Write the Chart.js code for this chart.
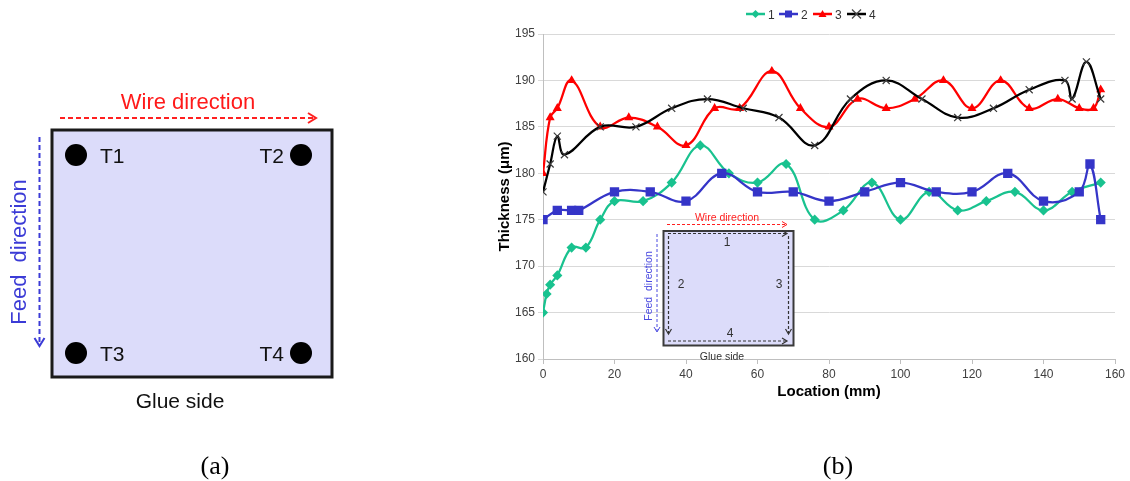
<!DOCTYPE html>
<html>
<head>
<meta charset="utf-8">
<title>Thickness along the sheet</title>
<script src="https://cdn.jsdelivr.net/npm/chart.js@4/dist/chart.umd.min.js"></script>
<style>
  body { margin: 0; background: #fff; }
  #wrap { position: relative; width: 1130px; height: 481px; overflow: hidden; }
  #myChart { position: absolute; left: 490px; top: 0; }
  #overlay { position: absolute; left: 0; top: 0; pointer-events: none; }
  .sans { font-family: "Liberation Sans", Arial, sans-serif; }
  .serif { font-family: "Liberation Serif", "Times New Roman", serif; }
</style>
</head>
<body>

<div id="wrap">
  <canvas id="myChart" width="640" height="410"></canvas>

  <svg id="overlay" width="1130" height="481" class="sans">
    <!-- (a) sample sketch -->
    <rect x="52" y="130" width="280" height="247" fill="#dcdcfa" stroke="#1a1a1a" stroke-width="3"/>
    <line x1="60" y1="118" x2="315" y2="118" stroke="#ff2020" stroke-width="2" stroke-dasharray="5 3"/>
    <polyline points="308,113 316,118 308,123" fill="none" stroke="#ff2020" stroke-width="2"/>
    <text x="188" y="109" font-size="22" fill="#ff1a1a" text-anchor="middle">Wire direction</text>
    <line x1="39.5" y1="137" x2="39.5" y2="345" stroke="#3b3bd6" stroke-width="2" stroke-dasharray="5 3"/>
    <polyline points="34.5,338 39.5,346 44.5,338" fill="none" stroke="#3b3bd6" stroke-width="2"/>
    <text transform="translate(26,252) rotate(-90)" font-size="22" fill="#3b3bd6" text-anchor="middle" xml:space="preserve">Feed  direction</text>
    <circle cx="76" cy="155" r="11" fill="#000"/>
    <circle cx="301" cy="155" r="11" fill="#000"/>
    <circle cx="76" cy="353" r="11" fill="#000"/>
    <circle cx="301" cy="353" r="11" fill="#000"/>
    <text x="100" y="163" font-size="21" fill="#111">T1</text>
    <text x="284" y="163" font-size="21" fill="#111" text-anchor="end">T2</text>
    <text x="100" y="361" font-size="21" fill="#111">T3</text>
    <text x="284" y="361" font-size="21" fill="#111" text-anchor="end">T4</text>
    <text x="180" y="408" font-size="21" fill="#111" text-anchor="middle">Glue side</text>

    <!-- inset sketch inside the plot -->
    <rect x="663.5" y="231" width="130" height="114.5" fill="#dcdcfa" stroke="#3a3a3a" stroke-width="2"/>
    <g stroke="#333" stroke-width="1.2" fill="none">
      <line x1="668" y1="233.5" x2="786" y2="233.5" stroke-dasharray="3 2"/>
      <polyline points="782,230.5 787,233.5 782,236.5"/>
      <line x1="668.5" y1="236" x2="668.5" y2="333" stroke-dasharray="3 2"/>
      <polyline points="665.5,329 668.5,334 671.5,329"/>
      <line x1="788.5" y1="236" x2="788.5" y2="333" stroke-dasharray="3 2"/>
      <polyline points="785.5,329 788.5,334 791.5,329"/>
      <line x1="668" y1="341" x2="786" y2="341" stroke-dasharray="3 2"/>
      <polyline points="782,338 787,341 782,344"/>
    </g>
    <text x="727" y="246" font-size="12" fill="#333" text-anchor="middle">1</text>
    <text x="681" y="288" font-size="12" fill="#333" text-anchor="middle">2</text>
    <text x="779" y="288" font-size="12" fill="#333" text-anchor="middle">3</text>
    <text x="730" y="337" font-size="12" fill="#333" text-anchor="middle">4</text>
    <text x="727" y="220.5" font-size="10.5" fill="#ff2020" text-anchor="middle">Wire direction</text>
    <line x1="667" y1="224.5" x2="786" y2="224.5" stroke="#ff2020" stroke-width="1" stroke-dasharray="3 2"/>
    <polyline points="782,221.5 787,224.5 782,227.5" fill="none" stroke="#ff2020" stroke-width="1"/>
    <text transform="translate(651.8,286) rotate(-90)" font-size="10.5" fill="#4a4ae0" text-anchor="middle" xml:space="preserve">Feed  direction</text>
    <line x1="657" y1="234" x2="657" y2="331" stroke="#4a4ae0" stroke-width="1" stroke-dasharray="3 2"/>
    <polyline points="654,327 657,332 660,327" fill="none" stroke="#4a4ae0" stroke-width="1"/>
    <text x="722" y="359.5" font-size="10.5" fill="#333" text-anchor="middle">Glue side</text>

    <!-- legend -->
    <line x1="746" y1="14" x2="765" y2="14" stroke="#19c28f" stroke-width="2.5"/>
    <polygon points="755.5,10 759.5,14 755.5,18 751.5,14" fill="#19c28f"/>
    <text x="768" y="18.5" font-size="12" fill="#333">1</text>
    <line x1="779" y1="14" x2="798" y2="14" stroke="#3535c8" stroke-width="2.5"/>
    <rect x="785" y="10.5" width="7" height="7" fill="#3535c8"/>
    <text x="801" y="18.5" font-size="12" fill="#333">2</text>
    <line x1="813" y1="14" x2="832" y2="14" stroke="#ff0000" stroke-width="2.5"/>
    <polygon points="822.5,10 826.5,17 818.5,17" fill="#ff0000"/>
    <text x="835" y="18.5" font-size="12" fill="#333">3</text>
    <line x1="847" y1="14" x2="866" y2="14" stroke="#000" stroke-width="2.5"/>
    <g stroke="#444" stroke-width="1.2"><line x1="852" y1="9.5" x2="861" y2="18.5"/><line x1="852" y1="18.5" x2="861" y2="9.5"/></g>
    <text x="869" y="18.5" font-size="12" fill="#333">4</text>

    <!-- panel captions -->
    <text x="215" y="474" font-size="26" fill="#000" text-anchor="middle" class="serif">(a)</text>
    <text x="838" y="474" font-size="26" fill="#000" text-anchor="middle" class="serif">(b)</text>
  </svg>
</div>

<script>
    // readings per series: location (mm) and thickness (um)
    const loc1 = [0, 1, 2, 4, 8, 12, 16, 20, 28, 36, 44, 52, 60, 68, 76, 84, 92, 100, 108, 116, 124, 132, 140, 148, 156];
    const thk1 = [165, 167, 168, 169, 172, 172, 175, 177, 177, 179, 183, 180, 179, 181, 175, 176, 179, 175, 178, 176, 177, 178, 176, 178, 179];

    const loc2 = [0, 4, 8, 10, 20, 30, 40, 50, 60, 70, 80, 90, 100, 110, 120, 130, 140, 150, 153, 156];
    const thk2 = [175, 176, 176, 176, 178, 178, 177, 180, 178, 178, 177, 178, 179, 178, 178, 180, 177, 178, 181, 175];

    const loc3 = [0, 2, 4, 8, 16, 24, 32, 40, 48, 55, 64, 72, 80, 88, 96, 104, 112, 120, 128, 136, 144, 150, 154, 156];
    const thk3 = [180, 186, 187, 190, 185, 186, 185, 183, 187, 187, 191, 187, 185, 188, 187, 188, 190, 187, 190, 187, 188, 187, 187, 189];

    const loc4 = [0, 2, 4, 6, 16, 26, 36, 46, 56, 66, 76, 86, 96, 106, 116, 126, 136, 146, 148, 152, 156];
    const thk4 = [178, 181, 184, 182, 185, 185, 187, 188, 187, 186, 183, 188, 190, 188, 186, 187, 189, 190, 188, 192, 188];

    const xTicks = [0, 20, 40, 60, 80, 100, 120, 140, 160];
    const yTicks = [160, 165, 170, 175, 180, 185, 190, 195];

    function pairs(xs, ys) {
        return xs.map(function(x, i) { return { x: x, y: ys[i] }; });
    }

    Chart.defaults.font.family = '"Liberation Sans", Arial, sans-serif';

    new Chart("myChart", {
        type: "line",
        data: {
            datasets: [
                { label: "1", data: pairs(loc1, thk1), borderColor: "#19c28f", backgroundColor: "#19c28f",
                  pointStyle: "rectRot", pointRadius: 3.5, borderWidth: 2.25, order: 3 },
                { label: "2", data: pairs(loc2, thk2), borderColor: "#3535c8", backgroundColor: "#3535c8",
                  pointStyle: "rect", pointRadius: 5, borderWidth: 2.25, order: 2 },
                { label: "3", data: pairs(loc3, thk3), borderColor: "#ff0000", backgroundColor: "#ff0000",
                  pointStyle: "triangle", pointRadius: 3, borderWidth: 2.25, order: 1 },
                { label: "4", data: pairs(loc4, thk4), borderColor: "#000000", backgroundColor: "#000000",
                  pointStyle: "crossRot", pointRadius: 5, pointBorderColor: "#3a3a3a", pointBorderWidth: 1.2,
                  borderWidth: 2.25, order: 0 }
            ]
        },
        options: {
            responsive: false,
            animation: false,
            devicePixelRatio: 1,
            elements: { line: { tension: 0.4, fill: false } },
            layout: { padding: { top: 34, right: 15, left: 0, bottom: 0 } },
            plugins: { legend: { display: false }, tooltip: { enabled: false } },
            scales: {
                x: {
                    type: "linear",
                    min: xTicks[0],
                    max: xTicks[xTicks.length - 1],
                    afterBuildTicks: function(s) { s.ticks = xTicks.map(function(v) { return { value: v }; }); },
                    afterFit: function(s) { s.height = 51; },
                    ticks: { color: "#404040", font: { size: 12 }, padding: 3, maxRotation: 0 },
                    grid: { drawOnChartArea: false, color: "#bfbfbf", tickLength: 5 },
                    border: { color: "#bfbfbf" },
                    title: { display: true, text: "Location (mm)", color: "#000",
                             font: { size: 15, weight: "bold" }, padding: { top: 0, bottom: 9 } }
                },
                y: {
                    min: yTicks[0],
                    max: yTicks[yTicks.length - 1],
                    afterBuildTicks: function(s) { s.ticks = yTicks.map(function(v) { return { value: v }; }); },
                    afterFit: function(s) { s.width = 53; },
                    ticks: { color: "#404040", font: { size: 12 }, padding: 3 },
                    grid: { color: "#d9d9d9", tickLength: 5 },
                    border: { color: "#bfbfbf" },
                    title: { display: true, text: "Thickness (μm)", color: "#000",
                             font: { size: 15, weight: "bold" }, padding: { top: 6, bottom: 0 } }
                }
            }
        }
    });
</script>

</body>
</html>
